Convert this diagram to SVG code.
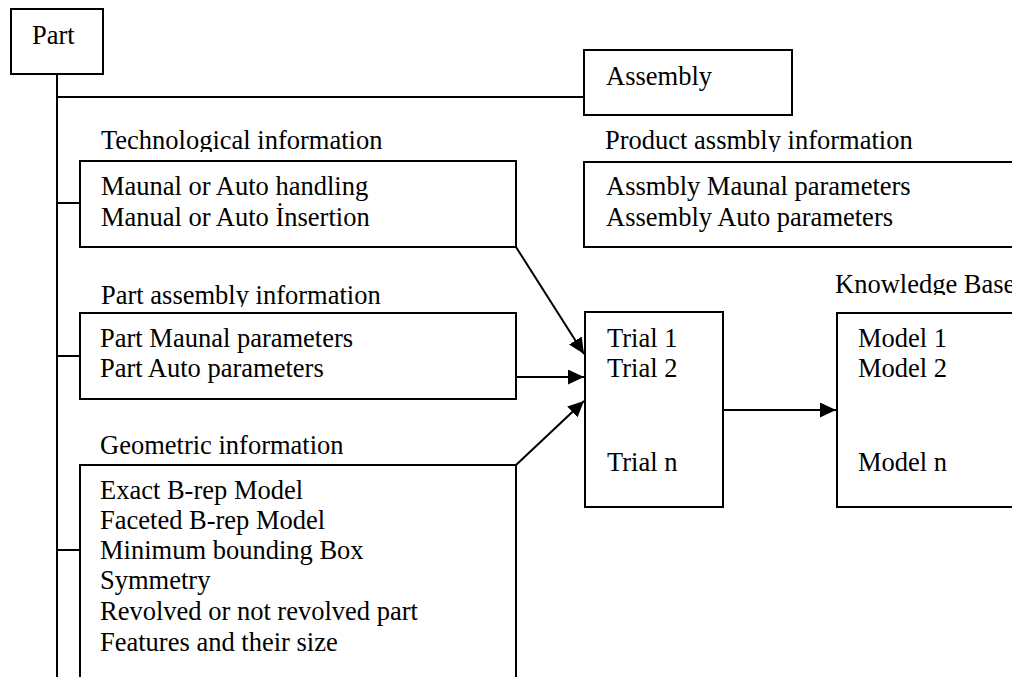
<svg xmlns="http://www.w3.org/2000/svg" width="1012" height="677" viewBox="0 0 1012 677">
  <style>
    .box { fill: #ffffff; stroke: #000000; stroke-width: 2; }
    .wire { fill: none; stroke: #000000; stroke-width: 2; }
    text { font-family: 'Liberation Serif', 'DejaVu Serif', serif; font-size: 26.5px; fill: #000000; }
  </style>
  <defs>
    <marker id="arrow" viewBox="0 0 16 15" refX="16" refY="7.5" markerWidth="16" markerHeight="15" markerUnits="userSpaceOnUse" orient="auto">
      <path d="M0,0 L16,7.5 L0,15 Z" fill="#000000"/>
    </marker>
    <!-- heading labels are cut just below their baseline -->
    <clipPath id="clipTech"><rect x="90" y="120" width="320" height="32"/></clipPath>
    <clipPath id="clipProd"><rect x="595" y="120" width="340" height="32"/></clipPath>
    <clipPath id="clipPartAsm"><rect x="90" y="275" width="320" height="32"/></clipPath>
    <clipPath id="clipKB"><rect x="825" y="263" width="200" height="32"/></clipPath>
  </defs>

  <rect width="1012" height="677" fill="#ffffff"/>

  <!-- connectors -->
  <g id="connectors">
    <path class="wire" d="M57,74 V677"/>
    <path class="wire" d="M57,97 H584"/>
    <path class="wire" d="M57,203 H80"/>
    <path class="wire" d="M57,356 H80"/>
    <path class="wire" d="M57,550 H80"/>
    <path class="wire" d="M516,247 L584,354" marker-end="url(#arrow)"/>
    <path class="wire" d="M516,377 H584" marker-end="url(#arrow)"/>
    <path class="wire" d="M516,465 L584,401" marker-end="url(#arrow)"/>
    <path class="wire" d="M723,410 H836" marker-end="url(#arrow)"/>
  </g>

  <g id="part">
    <rect class="box" x="11" y="9" width="92" height="65"/>
    <text x="32" y="44">Part</text>
  </g>

  <g id="assembly">
    <rect class="box" x="584" y="50" width="208" height="65"/>
    <text x="606" y="85">Assembly</text>
  </g>

  <g id="technological-information">
    <text x="101" y="149" clip-path="url(#clipTech)">Technological information</text>
    <rect class="box" x="80" y="161" width="436" height="86"/>
    <text x="101" y="195">Maunal or Auto handling</text>
    <text x="101" y="226">Manual or Auto İnsertion</text>
  </g>

  <g id="product-assembly-information">
    <text x="605" y="149" clip-path="url(#clipProd)">Product assmbly information</text>
    <rect class="box" x="584" y="162" width="440" height="85"/>
    <text x="606" y="195">Assmbly Maunal parameters</text>
    <text x="606" y="226">Assembly Auto parameters</text>
  </g>

  <g id="part-assembly-information">
    <text x="101" y="304" clip-path="url(#clipPartAsm)">Part assembly information</text>
    <rect class="box" x="80" y="313" width="436" height="86"/>
    <text x="100" y="347">Part Maunal parameters</text>
    <text x="100" y="377">Part Auto parameters</text>
  </g>

  <g id="geometric-information">
    <text x="100" y="454">Geometric information</text>
    <rect class="box" x="80" y="465" width="436" height="230"/>
    <text x="100" y="499">Exact B-rep Model</text>
    <text x="100" y="529">Faceted B-rep Model</text>
    <text x="100" y="559">Minimum bounding Box</text>
    <text x="100" y="589">Symmetry</text>
    <text x="100" y="620">Revolved or not revolved part</text>
    <text x="100" y="651">Features and their size</text>
  </g>

  <g id="trials">
    <rect class="box" x="585" y="312" width="138" height="195"/>
    <text x="607" y="347">Trial 1</text>
    <text x="607" y="377">Trial 2</text>
    <text x="607" y="471">Trial n</text>
  </g>

  <g id="knowledge-base">
    <text x="835" y="293" clip-path="url(#clipKB)">Knowledge Base</text>
    <rect class="box" x="837" y="313" width="200" height="194"/>
    <text x="858" y="347">Model 1</text>
    <text x="858" y="377">Model 2</text>
    <text x="858" y="471">Model n</text>
  </g>
</svg>
